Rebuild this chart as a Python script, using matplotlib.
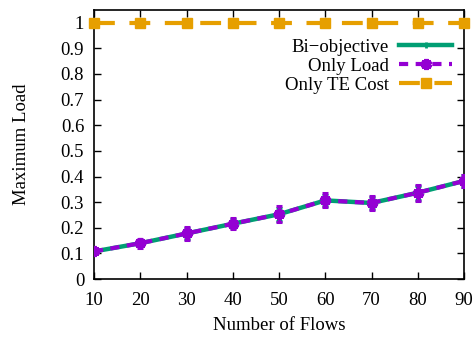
import matplotlib

matplotlib.use("Agg")
import matplotlib.pyplot as plt

# data
flows = [10, 20, 30, 40, 50, 60, 70, 80, 90]
bi_load = [0.108, 0.140, 0.178, 0.216, 0.253, 0.307, 0.297, 0.337, 0.383]
bi_err = [0.008, 0.012, 0.020, 0.018, 0.025, 0.022, 0.022, 0.028, 0.022]
only_load = [0.108, 0.140, 0.178, 0.216, 0.253, 0.307, 0.297, 0.337, 0.383]
only_load_err = [0.008, 0.017, 0.025, 0.022, 0.031, 0.027, 0.027, 0.032, 0.025]
only_te = [1.0, 1.0, 1.0, 1.0, 1.0, 1.0, 1.0, 1.0, 1.0]
yticks = [0, 0.1, 0.2, 0.3, 0.4, 0.5, 0.6, 0.7, 0.8, 0.9, 1]
ytick_labels = ["0", "0.1", "0.2", "0.3", "0.4", "0.5", "0.6", "0.7", "0.8", "0.9", "1"]

GREEN = "#009e73"
PURPLE = "#9400d3"
ORANGE = "#e69f00"

plt.rcParams["font.family"] = ["Liberation Serif", "DejaVu Serif"]
plt.rcParams["font.size"] = 13.5

fig = plt.figure(figsize=(4.77, 3.40), dpi=100)
ax = fig.add_axes([0.197, 0.179, 0.776, 0.792])

# bi-objective
ax.errorbar(flows, bi_load, yerr=bi_err, fmt="none", ecolor=GREEN,
            elinewidth=2.2, capsize=2.5, capthick=2.2, zorder=3)
ax.plot(flows, bi_load, color=GREEN, lw=3.2, marker="+", ms=5, mew=2,
        label="Bi\u2212objective", zorder=3)

# only load
ax.errorbar(flows, only_load, yerr=only_load_err, fmt="none", ecolor=PURPLE,
            elinewidth=2.2, capsize=2.5, capthick=2.2, zorder=4)
ax.plot(flows, only_load, color=PURPLE, lw=3.0, ls=(0, (2.2, 1.8)),
        marker=(6, 2, 0), ms=8, mew=3, mec=PURPLE,
        label="Only Load", zorder=4)

# only TE cost
ax.plot(flows, only_te, color=ORANGE, lw=3.0, ls=(0, (5, 3.5)),
        marker="s", ms=7.5, mec=ORANGE, clip_on=False,
        label="Only TE Cost", zorder=5)

ax.set_xlim(10, 90)
ax.set_ylim(0, 1.05)
ax.set_xticks(flows)
ax.set_yticks(yticks)
ax.set_yticklabels(ytick_labels)
ax.tick_params(direction="in", length=5, width=1, top=True, right=True,
               pad=7)
ax.tick_params(axis="x", pad=9)
for s in ax.spines.values():
    s.set_linewidth(1.2)

ax.set_xlabel("Number of Flows", labelpad=6)
ax.set_ylabel("Maximum Load", labelpad=22)

ax.legend(loc="upper right", bbox_to_anchor=(0.987, 0.92), frameon=False,
          markerfirst=False, handlelength=2.8, handletextpad=0.55,
          labelspacing=0.1, borderaxespad=0, fontsize=13.5)

fig.savefig("out.png", dpi=100)
